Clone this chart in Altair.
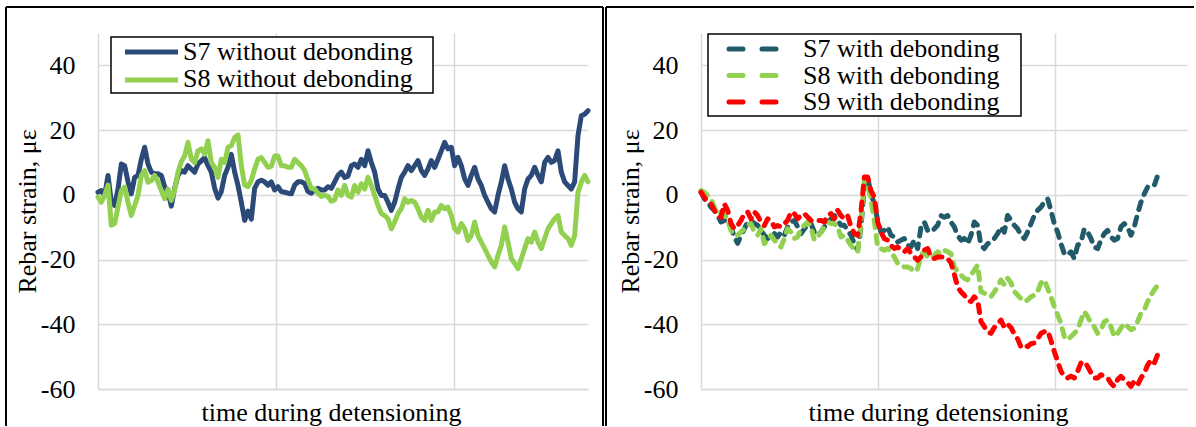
import altair as alt
import pandas as pd

FONT = "Liberation Serif"
GRID = "#d9d9d9"

LEFT_SERIES = ["S7 without debonding", "S8 without debonding"]
LEFT_COLORS = ["#2C4A78", "#92D050"]
RIGHT_SERIES = ["S7 with debonding", "S8 with debonding", "S9 with debonding"]
RIGHT_COLORS = ["#215A68", "#92D050", "#FF0000"]

Y_TICKS = [-60, -40, -20, 0, 20, 40]
Y_DOMAIN = [-60, 50]
X_GRID = [1, 2]
LEFT_END = 2.753
RIGHT_END = 2.746
LEFT_STEP = 0.018727   # time between samples (left panel)
RIGHT_STEP = 0.018832  # time between samples (right panel)

left_s7 = [
    0.8, 1.3, -0.2, 6, -2.3, -3.3, 1.8, 9.5, 9, 4, 0.3, 5.4, 6, 11, 14.7, 9.5, 7, 6.5, 6.5, 6,
    2.5, 0.8, -3.5, 2, 6, 7.5, 7, 9, 8, 7, 9.5, 10.5, 11.5, 9, 7, 2, -1, 1, 6, 8.5,
    12.5, 7, 2.9, -2.3, -7.9, -5, -7.5, 2, 4, 4.5, 4, 3, 4, 1.5, 2.5, 1, 0.8, 0.5, 0.3, 3,
    4, 4, 3.5, 1, 0.5, 1.5, 2, 1.5, 1.5, 2.5, 2, 4, 6,
    7, 5.4, 5.8, 9, 9.5, 8.5, 11, 9, 13.6, 10, 7, 1.8, -0.2, -0.2, -2.3, -4.8, -2.3, 1.8, 5.4, 7,
    9, 7.5, 9, 10.6, 7.5, 6, 8, 10.6, 8.5, 11, 13.6, 16.2, 14.2, 14.7, 9, 11.6, 9, 4.9, 2.9, 6,
    8.5, 4.9, 2.9, -0.2, -2.3, -4.3, -5.3, -0.2, 3.9, 9, 4.9, 1.8, -2.3, -4.3, -5.3, 1.8, 4.9, 6, 8.5, 6,
    4, 10, 11.6, 10, 10.6, 13.6, 7, 4, 2.9, 1.8, 4, 18.3, 24.4, 24.9, 26,
]
left_s8 = [
    -0.7, -2.3, -0.2, 3, -9.4, -8.9, -3.8, 1.3, 2.4, -2.3, -6.4, -3.3, -0.2, 6, 7.5, 3.9, 4.4, 6, 3.9, 1.3,
    -1.2, 1.8, -1.7, 1.5, 7, 10.3, 12, 16.2, 11, 10, 13.6, 14.2, 12.6, 16.7, 10, 8.5, 5.4, 11, 10, 14.7,
    15.2, 17.7, 18.5, 9, 3, 2.5, 4.5, 8, 11, 11.5, 10, 8.5, 8.8, 12, 12, 9, 9, 8.5, 8.5, 11,
    10, 9, 7.5, 4.5, 2, 1.8, 0.5, -0.5, -0.2, -0.5, -2, -1.5, 1.5,
    -0.2, 2.9, -0.2, -0.7, 2.9, 0.8, 3.4, 1.8, 5.4, 2.9, -0.2, -3.3, -5.8, -6.4, -7.4, -10.5, -8.4, -5.8, -4.3, -1.2,
    -2.3, -1.7, -2.3, -4.3, -6.9, -7.9, -4.8, -7.9, -5.3, -5.3, -3.3, -4.3, -3.8, -6.4, -10.5, -11.5, -8.9, -10.5, -14.1, -12.6,
    -8.4, -12.6, -14.6, -16.6, -18.7, -20.7, -22.3, -18.7, -15.6, -9.9, -14.6, -19.7, -21.2, -22.8, -19.7, -16.6, -13.5, -14.6, -11.5, -14.6,
    -16.6, -13.5, -10.5, -8.9, -7.4, -6.4, -11.5, -12.6, -13.5, -15.6, -12.6, 0.8, 3.9, 6, 4,
]

right_s7 = [
    0.8, -1.2, -2.3, -3.8, -4.8, -6.4, -8.4, -7.9, -8.4, -9.9, -13, -15, -12.5, -10.5, -8.4, -7.9, -8.9, -9.4, -11, -12.5,
    -13.5, -12.5, -12, -13, -11.5, -12.5, -9.9, -8.4, -7.9, -9.9, -12, -10.5, -9.4, -8.9, -11.5, -12.5, -11.5, -9.9, -8.9, -7.4,
    -6.4, -7.9, -9.4, -9.4, -11, -12.5, -15.1, -17.1, -10, 2.4, 5.4, 0.3, -2.8, -7.9, -11.5, -11, -9.9, -12.5, -13, -14.6,
    -14, -13.5, -15.6, -16.1, -14, -16.6, -10, -8.4, -11, -11.5, -10.5, -9.4,
    -6.4, -6.9, -6.4, -8.4, -9.9, -12.5, -14, -13.5, -15.1, -12.5, -8.4, -9.4, -15.6, -16.6, -15.1, -14.6, -13.5, -12, -9.9, -11.5,
    -6.4, -7.9, -9.4, -10.5, -12.5, -13.5, -11.5, -8.9, -6.4, -4.8, -3.8, -2.3, -1.2, -4.8, -8.9, -11.5, -15.1, -18.2, -18.7, -17.6,
    -19.7, -15.6, -14.6, -10.5, -11.5, -13.5, -16.1, -16.6, -14, -12, -11, -13, -14, -13.5, -9.9, -8.9, -9.9, -12.5, -9.9, -5.8,
    -2.3, 0.3, 2.4, 2.9, 2.9, 5.9,
]
right_s8 = [
    1.3, 0.8, -0.2, -1.2, -3.8, -5.8, -5.3, -5.8, -7.9, -11, -12.5, -12.5, -11.5, -10.5, -9.4, -8.9, -11.5, -12.5, -10.5, -15.1,
    -14, -12.5, -14, -15.1, -16.1, -13.5, -10.5, -11.5, -13.5, -13, -10.5, -9.4, -8.4, -9.9, -14, -13, -11.5, -9.9, -8.4, -8.9,
    -8.9, -9.9, -13, -12.5, -14, -15.6, -17.1, -17.6, -8.9, 4.4, 3.4, -1.7, -7.9, -16.1, -16.6, -17.1, -16.6, -17.6, -19.2, -21.2,
    -21.7, -22.3, -22.3, -22.8, -23.8, -22.8, -18.7, -17.6, -19.2, -19.7, -18.7, -17.6,
    -18.2, -17.1, -17.6, -18.2, -22.3, -23.8, -24.8, -25.8, -26.3, -24.8, -23.3, -21.7, -29.9, -30.4, -31, -31.5, -30, -28.4, -26.3, -27.8,
    -25.8, -27.2, -29.9, -31, -32, -33, -32.5, -31.5, -31, -29.9, -27.2, -26.3, -28.9, -31.5, -34.6, -37.1, -39.7, -43.8, -44.8, -43.8,
    -42.8, -41.7, -38.7, -36.1, -37.6, -39.7, -40.7, -42.8, -41.7, -39.2, -38.7, -40.7, -43.8, -42.8, -41.2, -39.7, -40.7, -41.7, -41.2, -39.2,
    -36.6, -35.6, -33, -31, -29.4, -27.9,
]
right_s9 = [
    0.8, -0.7, -2.3, -2.8, -4.8, -6.4, -6.9, -2.8, -4.8, -8.9, -10.5, -9.5, -7.9, -5.8, -5.3, -7.4, -5.3, -6.4, -8.4, -9.5,
    -7.4, -7.9, -9.9, -9.5, -9.9, -8.9, -7.9, -5.3, -5.8, -7.4, -6.4, -5.8, -6.9, -7.9, -7.9, -7.9, -7.9, -8.4, -6.4, -5.8,
    -7.4, -4.8, -6.4, -7.4, -6.4, -9.9, -12, -12.5, -5.3, 5.5, 5.5, 1.3, -0.7, -8.4, -11.5, -13.5, -14, -15.6, -16.6, -16.1,
    -17.1, -17.6, -16.6, -18.2, -19.2, -20.2, -19.2, -17.1, -16.6, -19.2, -19.7, -19.2,
    -19.2, -19.2, -19.7, -21, -24.5, -28.4, -30, -31, -32.5, -33, -31.5, -32.5, -39.2, -40.7, -42.3, -42.8, -41, -40, -38.7, -41,
    -40, -41, -43, -44.5, -47, -46.4, -46.9, -46, -45.8, -44.5, -42.8, -42.3, -42, -45, -48.4, -51.5, -54.5, -56.1, -56.6, -56,
    -56.6, -54.5, -52, -51.5, -53, -55, -56.6, -56.6, -55.6, -56.1, -56.6, -58.2, -59.2, -57.1, -56.1, -57.1, -58, -59.2, -57.6, -58.7,
    -56.6, -55.1, -52.6, -51, -52, -49.4,
]


def frame(series_names, series_values, step):
    rows = []
    for name, vals in zip(series_names, series_values):
        for i, v in enumerate(vals):
            rows.append({"series": name, "time": round(i * step, 5), "strain": v})
    return pd.DataFrame(rows)


left_df = frame(LEFT_SERIES, [left_s7, left_s8], LEFT_STEP)
right_df = frame(RIGHT_SERIES, [right_s7, right_s8, right_s9], RIGHT_STEP)

PLOT_H = 356
LW = 5


def y_axis():
    return alt.Axis(
        values=Y_TICKS, title="Rebar strain, με", grid=True, gridColor=GRID, gridWidth=1.5,
        domain=True, domainColor=GRID, domainWidth=1.5, ticks=False, tickSize=0,
        labelExpr="'' + datum.value",
        labelPadding=23, labelFont=FONT, labelFontSize=26, labelColor="black",
        titleFont=FONT, titleFontSize=26, titleFontWeight="normal", titleColor="black",
        titlePadding=0,
    )


def x_axis(title_x):
    return alt.Axis(
        values=X_GRID, labels=False, ticks=False, tickSize=0, grid=True, gridColor=GRID,
        gridWidth=1.5, domain=True, domainColor=GRID, domainWidth=1.5,
        title="time during detensioning", titleFont=FONT, titleFontSize=26,
        titleFontWeight="normal", titleColor="black", titleX=title_x, titleY=31,
        titleBaseline="alphabetic", titleAlign="center",
    )


def one():
    return pd.DataFrame({"k": [0]})


def hrule(x, x2, y, color="black", width=2, dash=None):
    kw = dict(color=color, strokeWidth=width)
    if dash:
        kw.update(strokeDash=dash, strokeCap="round")
    return alt.Chart(one()).mark_rule(**kw).encode(
        x=alt.value(x), x2=alt.value(x2), y=alt.value(y))


def vrule(x, y, y2, color="black", width=2):
    return alt.Chart(one()).mark_rule(color=color, strokeWidth=width).encode(
        x=alt.value(x), y=alt.value(y), y2=alt.value(y2))


def box(x, x2, y, y2):
    return alt.Chart(one()).mark_rect(fill="white", stroke="black", strokeWidth=1.5).encode(
        x=alt.value(x), x2=alt.value(x2), y=alt.value(y), y2=alt.value(y2))


def label(text, x, y):
    return alt.Chart(pd.DataFrame({"label": [text]})).mark_text(
        align="left", baseline="alphabetic", font=FONT, fontSize=26, color="black"
    ).encode(text="label:N", x=alt.value(x), y=alt.value(y))


# ---------- left panel ----------
left_lines = alt.Chart(left_df).mark_line(strokeWidth=LW, strokeJoin="round", strokeCap="round").encode(
    x=alt.X("time:Q", scale=alt.Scale(domain=[0, LEFT_END], nice=False, zero=False), axis=x_axis(233)),
    y=alt.Y("strain:Q", scale=alt.Scale(domain=Y_DOMAIN, nice=False, zero=False), axis=y_axis()),
    color=alt.Color("series:N", scale=alt.Scale(domain=LEFT_SERIES, range=LEFT_COLORS), legend=None),
)
left_layers = [left_lines, box(13, 335, 4, 60)]
for i, (name, col) in enumerate(zip(LEFT_SERIES, LEFT_COLORS)):
    left_layers.append(hrule(27, 80, 19 + 28 * i, color=col, width=LW))
    left_layers.append(label(name, 85, 27 + 27 * i))
left_layers += [hrule(-92, 505, -26), vrule(-92, -26, 393), vrule(505, -26, 393)]
left = alt.layer(*left_layers).properties(width=490, height=PLOT_H)

# ---------- right panel ----------
right_lines = alt.Chart(right_df).mark_line(
    strokeWidth=LW, strokeJoin="round", strokeCap="round", strokeDash=[8, 8]
).encode(
    x=alt.X("time:Q", scale=alt.Scale(domain=[0, RIGHT_END], nice=False, zero=False), axis=x_axis(237)),
    y=alt.Y("strain:Q", scale=alt.Scale(domain=Y_DOMAIN, nice=False, zero=False), axis=y_axis()),
    color=alt.Color("series:N", scale=alt.Scale(domain=RIGHT_SERIES, range=RIGHT_COLORS), legend=None),
)
right_layers = [right_lines, box(7, 320, 1, 83)]
for i, (name, col) in enumerate(zip(RIGHT_SERIES, RIGHT_COLORS)):
    right_layers.append(hrule(28, 75, 16 + 26.5 * i, color=col, width=LW, dash=[14, 19]))
    right_layers.append(label(name, 102, 24 + 26.5 * i))
right_layers += [hrule(-95, 493, -26), vrule(-95, -26, 393)]
right = alt.layer(*right_layers).properties(width=486, height=PLOT_H)

chart = alt.hconcat(left, right, spacing=1).resolve_scale(
    color="independent", x="independent", y="independent"
).properties(
    padding={"left": 5, "top": 6, "right": 0, "bottom": 0},
    background="white",
).configure_view(strokeWidth=0)

chart.save("out.html", embed_options={"renderer": "svg", "actions": False})
